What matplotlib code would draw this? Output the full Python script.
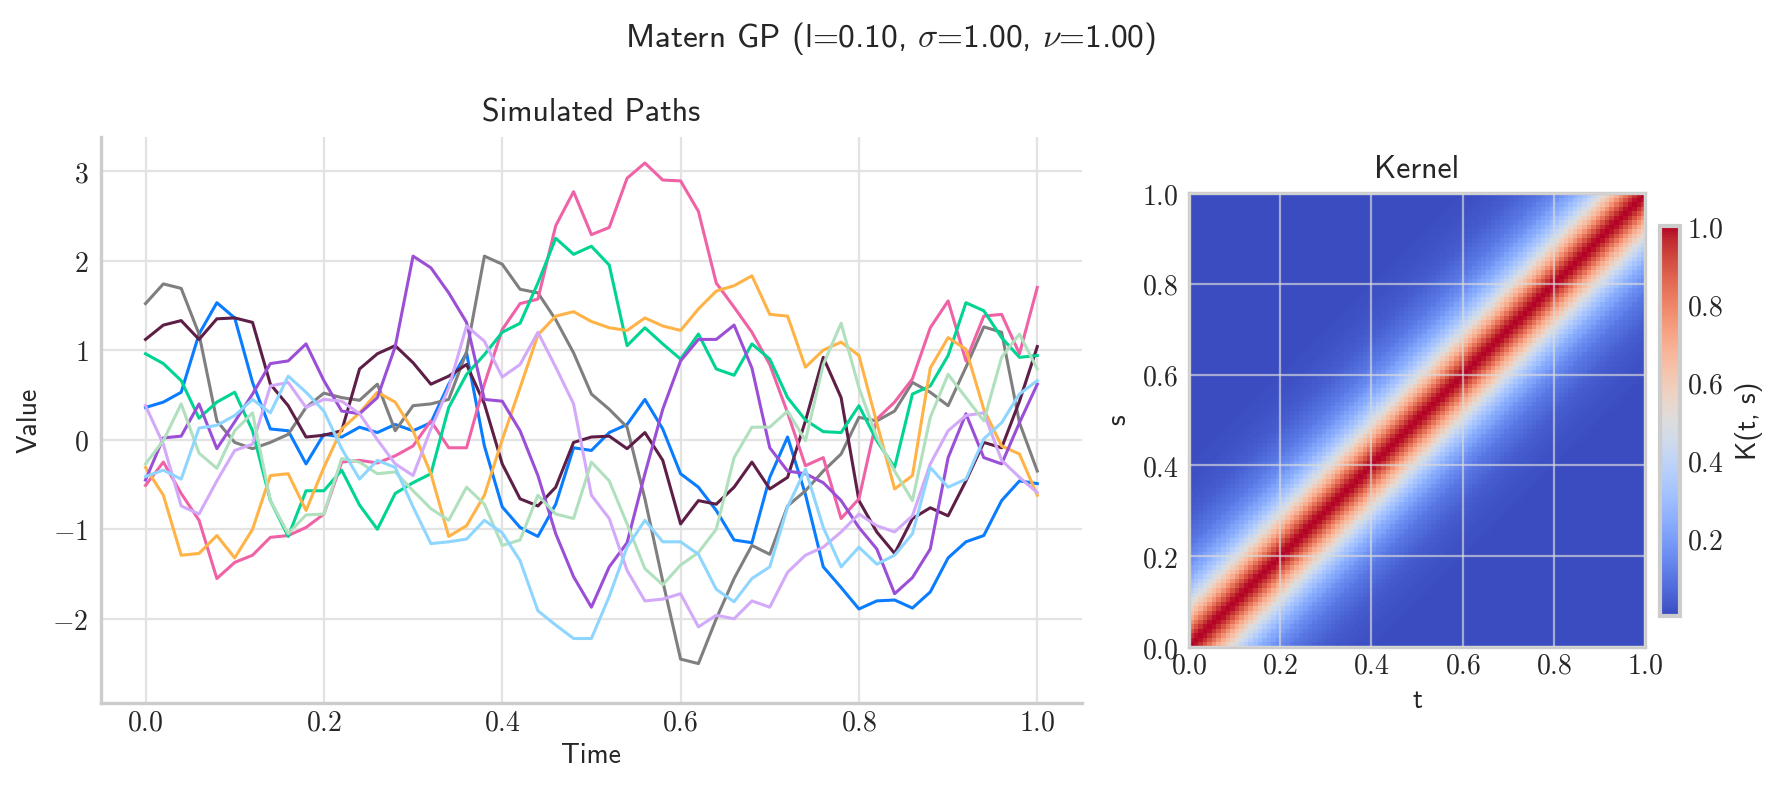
import numpy as np
import matplotlib
matplotlib.use("Agg")
import matplotlib.pyplot as plt
from matplotlib.ticker import FuncFormatter, MultipleLocator

plt.rcParams["mathtext.fontset"] = "cm"
SANS = "cmss10"
TXT = "#262626"

# time grid of the paths (values read every 0.02)
t = np.round(np.arange(0, 1.0001, 0.02), 2)

path_blue = [0.36, 0.42, 0.53, 1.18, 1.53, 1.36, 0.64, 0.12, 0.10, -0.27,
             0.06, 0.03, 0.14, 0.08, 0.17, 0.10, 0.19, 0.62, 0.97, -0.07,
             -0.75, -0.98, -1.08, -0.72, -0.09, -0.12, 0.08, 0.17, 0.45, 0.12,
             -0.38, -0.53, -0.79, -1.12, -1.15, -0.42, 0.03, -0.61, -1.42, -1.65,
             -1.89, -1.80, -1.79, -1.88, -1.70, -1.32, -1.14, -1.07, -0.68, -0.46,
             -0.49]
path_gray = [1.52, 1.74, 1.69, 1.18, 0.21, -0.03, -0.10, -0.03, 0.06, 0.36,
             0.52, 0.47, 0.44, 0.62, 0.10, 0.38, 0.40, 0.45, 0.98, 2.05,
             1.96, 1.68, 1.64, 1.34, 0.97, 0.51, 0.34, 0.14, -0.66, -1.58,
             -2.45, -2.50, -2.00, -1.55, -1.18, -1.28, -0.74, -0.57, -0.35, -0.16,
             0.25, 0.21, 0.32, 0.64, 0.53, 0.38, 0.81, 1.26, 1.20, 0.19,
             -0.35]
path_maroon = [1.12, 1.28, 1.33, 1.12, 1.35, 1.36, 1.31, 0.62, 0.38, 0.03,
               0.05, 0.10, 0.79, 0.96, 1.05, 0.86, 0.62, 0.71, 0.84, 0.40,
               -0.27, -0.66, -0.74, -0.53, -0.03, 0.03, 0.04, -0.10, 0.08, -0.23,
               -0.94, -0.68, -0.72, -0.53, -0.25, -0.55, -0.42, 0.21, 0.92, 0.47,
               -0.68, -1.03, -1.27, -0.88, -0.76, -0.85, -0.46, -0.03, -0.09, 0.43,
               1.04]
path_pink = [-0.51, -0.25, -0.60, -0.90, -1.55, -1.37, -1.29, -1.09, -1.07, -0.98,
             -0.83, -0.25, -0.23, -0.26, -0.18, -0.07, 0.21, -0.09, -0.09, 0.62,
             1.23, 1.52, 1.57, 2.39, 2.77, 2.29, 2.37, 2.92, 3.09, 2.90,
             2.89, 2.55, 1.75, 1.48, 1.20, 0.84, 0.30, -0.29, -0.20, -0.88,
             -0.66, 0.23, 0.42, 0.68, 1.25, 1.55, 0.88, 1.38, 1.40, 0.96,
             1.70]
path_green = [0.96, 0.85, 0.66, 0.24, 0.42, 0.53, 0.10, -0.68, -1.08, -0.57,
              -0.57, -0.34, -0.73, -1.00, -0.60, -0.48, -0.38, 0.36, 0.73, 0.95,
              1.20, 1.30, 1.75, 2.25, 2.07, 2.16, 1.95, 1.05, 1.25, 1.07,
              0.90, 1.18, 0.79, 0.72, 1.07, 0.90, 0.47, 0.22, 0.09, 0.08,
              0.38, -0.01, -0.31, 0.51, 0.60, 0.94, 1.53, 1.44, 1.14, 0.92,
              0.94]
path_orange = [-0.31, -0.62, -1.29, -1.27, -1.07, -1.32, -1.00, -0.40, -0.38, -0.79,
               -0.31, 0.12, 0.30, 0.53, 0.42, 0.10, -0.38, -1.08, -0.96, -0.62,
               0.00, 0.58, 1.17, 1.38, 1.43, 1.32, 1.25, 1.22, 1.36, 1.27,
               1.22, 1.46, 1.66, 1.72, 1.83, 1.40, 1.38, 0.81, 1.00, 1.09,
               0.94, 0.19, -0.55, -0.40, 0.80, 1.14, 1.01, 0.34, -0.07, -0.16,
               -0.62]
path_purple = [-0.45, 0.02, 0.04, 0.40, -0.10, 0.20, 0.51, 0.85, 0.88, 1.07,
               0.66, 0.32, 0.29, 0.47, 1.04, 2.05, 1.92, 1.64, 1.31, 0.45,
               0.43, 0.10, -0.40, -1.05, -1.53, -1.87, -1.42, -1.15, -0.38, 0.34,
               0.88, 1.12, 1.12, 1.28, 0.80, -0.09, -0.35, -0.38, -0.48, -0.68,
               -0.98, -1.22, -1.72, -1.54, -1.22, -0.20, 0.29, -0.20, -0.27, 0.19,
               0.62]
path_lilac = [0.38, -0.05, -0.74, -0.83, -0.46, -0.12, -0.05, 0.60, 0.64, 0.36,
              0.45, 0.43, 0.29, 0.00, -0.27, -0.40, 0.12, 0.58, 1.27, 1.10,
              0.70, 0.84, 1.20, 0.81, 0.40, -0.62, -0.88, -1.46, -1.80, -1.78,
              -1.72, -2.09, -1.96, -2.00, -1.80, -1.87, -1.48, -1.29, -1.20, -1.03,
              -0.83, -0.96, -1.03, -0.85, -0.27, 0.10, 0.27, 0.30, -0.23, -0.42,
              -0.59]
path_mint = [-0.27, -0.01, 0.40, -0.15, -0.32, 0.10, 0.30, -0.68, -1.05, -0.84,
             -0.83, -0.21, -0.25, -0.38, -0.36, -0.57, -0.77, -0.90, -0.53, -0.72,
             -1.18, -1.12, -0.62, -0.83, -0.88, -0.25, -0.46, -0.94, -1.44, -1.62,
             -1.40, -1.26, -1.00, -0.20, 0.14, 0.14, 0.32, -0.01, 0.84, 1.30,
             0.58, 0.03, -0.35, -0.68, 0.25, 0.73, 0.47, 0.21, 0.92, 1.18,
             0.79]
path_sky = [-0.41, -0.34, -0.44, 0.13, 0.16, 0.27, 0.45, 0.30, 0.71, 0.53,
            0.32, -0.10, -0.44, -0.23, -0.31, -0.75, -1.16, -1.14, -1.11, -0.90,
            -1.04, -1.35, -1.91, -2.07, -2.22, -2.22, -1.75, -1.20, -0.90, -1.14,
            -1.14, -1.28, -1.67, -1.81, -1.55, -1.42, -0.75, -0.33, -0.98, -1.42,
            -1.20, -1.39, -1.29, -1.05, -0.31, -0.53, -0.44, 0.01, 0.19, 0.51,
            0.66]

paths = [path_blue, path_gray, path_maroon, path_pink, path_green,
         path_orange, path_purple, path_lilac, path_mint, path_sky]
colors = ["#0A7CFF", "#7F7F7F", "#5E1F47", "#F062A6", "#00D492",
          "#FFB347", "#9B4FD6", "#D3A9FA", "#B0E0BE", "#8ED6FF"]

# kernel value against lag (in grid steps of 1/99)
kernel_profile = [1.00, 0.985, 0.95, 0.90, 0.84, 0.77, 0.70, 0.64, 0.58, 0.52,
                  0.47, 0.42, 0.37, 0.33, 0.30, 0.26, 0.23, 0.21, 0.18, 0.16,
                  0.14, 0.13, 0.11, 0.10, 0.09, 0.08, 0.07, 0.06, 0.05, 0.045,
                  0.04, 0.035, 0.03, 0.027, 0.024, 0.02, 0.018, 0.016, 0.014, 0.012,
                  0.01]
kernel_tail = 0.003
n_grid = 100


def cm_fmt(dec):
    def f(v, pos):
        if dec == 0:
            return r"$%d$" % int(round(v))
        return r"$%.*f$" % (dec, v)
    return FuncFormatter(f)


fig = plt.figure(figsize=(8.9, 3.965), dpi=200)
ax1 = fig.add_axes([0.0567, 0.1135, 0.5511, 0.7137])
ax2 = fig.add_axes([0.668, 0.1841, 0.2562, 0.5725])
cax = fig.add_axes([0.9326, 0.2232, 0.0112, 0.4918])

# --- simulated paths
for p, c in zip(paths, colors):
    ax1.plot(t, p, color=c, lw=1.1)
ax1.set_xlim(-0.05, 1.05)
ax1.set_ylim(-2.94, 3.38)
ax1.xaxis.set_major_locator(MultipleLocator(0.2))
ax1.yaxis.set_major_locator(MultipleLocator(1))
ax1.xaxis.set_major_formatter(cm_fmt(1))
ax1.yaxis.set_major_formatter(cm_fmt(0))
ax1.grid(True, color="#e3e3e3", lw=0.8)
ax1.set_axisbelow(True)
for s in ["top", "right"]:
    ax1.spines[s].set_visible(False)
for s in ["left", "bottom"]:
    ax1.spines[s].set_color("#cccccc")
    ax1.spines[s].set_linewidth(1.2)
ax1.tick_params(length=0, labelsize=10, colors=TXT)
ax1.tick_params(axis="x", pad=2.0)
ax1.tick_params(axis="y", pad=4.5)
ax1.set_title("Simulated Paths", fontfamily=SANS, fontsize=11.5, color=TXT, pad=5.5)
ax1.set_xlabel("Time", fontfamily=SANS, fontsize=10, color=TXT, labelpad=2.5)
ax1.set_ylabel("Value", fontfamily=SANS, fontsize=10, color=TXT)

# --- kernel heatmap
prof = np.array(kernel_profile + [kernel_tail] * (n_grid - len(kernel_profile)))
idx = np.arange(n_grid)
K = prof[np.abs(idx[:, None] - idx[None, :])]
im = ax2.imshow(K, origin="lower", extent=[0, 1, 0, 1], aspect="auto",
                cmap="coolwarm", interpolation="nearest")
ax2.xaxis.set_major_locator(MultipleLocator(0.2))
ax2.yaxis.set_major_locator(MultipleLocator(0.2))
ax2.xaxis.set_major_formatter(cm_fmt(1))
ax2.yaxis.set_major_formatter(cm_fmt(1))
ax2.set_axisbelow(False)
ax2.grid(True, color="#dcdcdc", alpha=0.65, lw=0.8)
for s in ax2.spines.values():
    s.set_color("#cccccc")
    s.set_linewidth(1.2)
ax2.tick_params(length=0, labelsize=10, colors=TXT)
ax2.tick_params(axis="x", pad=1.5)
ax2.tick_params(axis="y", pad=3.8)
ax2.set_title("Kernel", fontfamily=SANS, fontsize=11.5, color=TXT, pad=5.5)
ax2.set_xlabel("t", fontfamily=SANS, fontsize=10, color=TXT, labelpad=3)
ax2.set_ylabel("s", fontfamily=SANS, fontsize=10, color=TXT)

cb = fig.colorbar(im, cax=cax)
cb.set_ticks([0.2, 0.4, 0.6, 0.8, 1.0])
cb.ax.yaxis.set_major_formatter(cm_fmt(1))
cb.outline.set_edgecolor("#cccccc")
cb.outline.set_linewidth(1.5)
cb.ax.tick_params(length=0, pad=2.5, labelsize=10, colors=TXT)
cb.set_label("K(t, s)", fontfamily=SANS, fontsize=10, color=TXT)

fig.suptitle(r"Matern GP (l=0.10, $\sigma$=1.00, $\nu$=1.00)",
             fontfamily=SANS, fontsize=12, color=TXT, y=1 - 47 / 793, va="baseline")

fig.savefig("out.png", dpi=200)
